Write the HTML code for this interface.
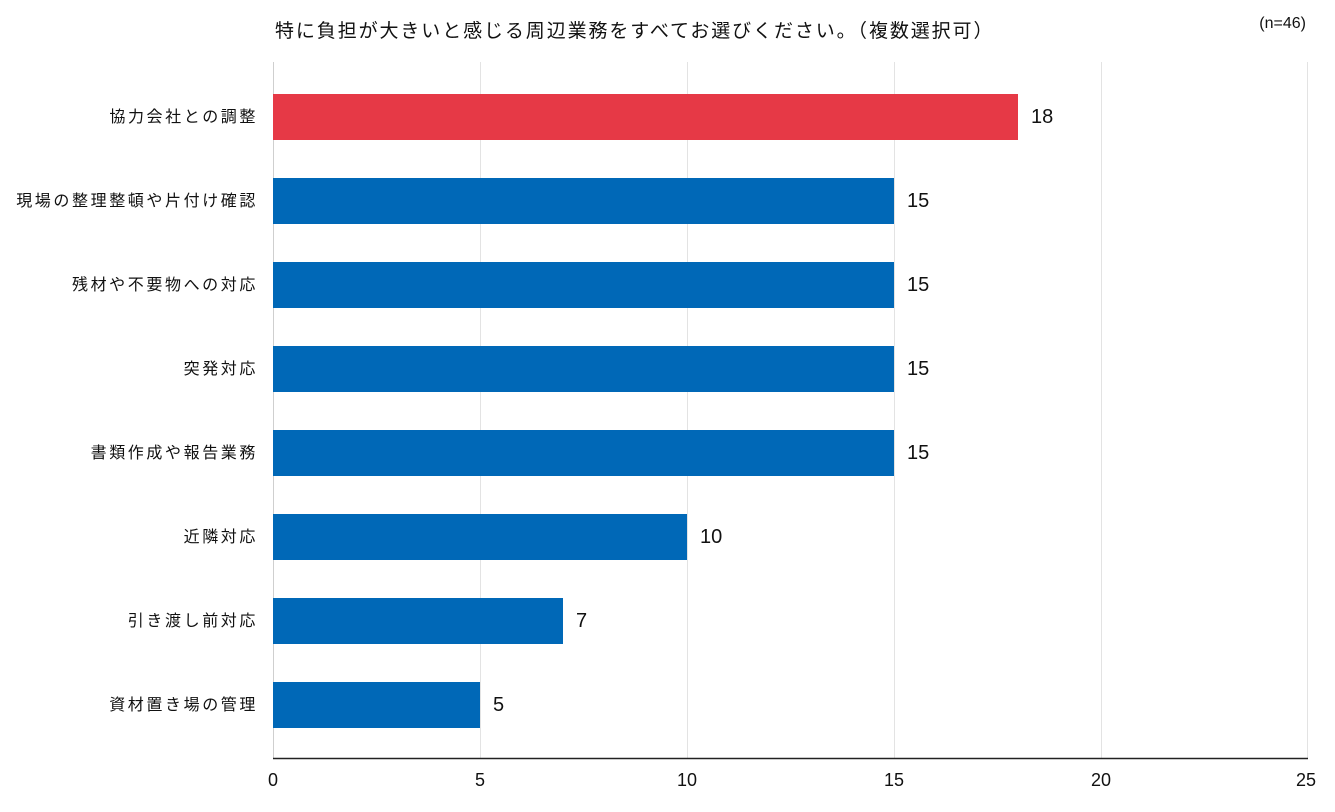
<!DOCTYPE html>
<html><head><meta charset="utf-8"><style>
body{margin:0;background:#fff;}
svg text{font-family:"Liberation Sans","Noto Sans CJK JP",sans-serif;fill:#111;}
</style></head><body>
<svg width="1335" height="807" xmlns="http://www.w3.org/2000/svg">
<text x="275" y="37" font-size="19" letter-spacing="1.9">特に負担が大きいと感じる周辺業務をすべてお選びください。（複数選択可）</text>
<text x="1306" y="28" font-size="16" text-anchor="end">(n=46)</text>
<g stroke="#e3e3e3" stroke-width="1">
<line x1="480.5" y1="62" x2="480.5" y2="758"/>
<line x1="687.5" y1="62" x2="687.5" y2="758"/>
<line x1="894.5" y1="62" x2="894.5" y2="758"/>
<line x1="1101.5" y1="62" x2="1101.5" y2="758"/>
<line x1="1307.5" y1="62" x2="1307.5" y2="758"/>
</g>
<line x1="273.5" y1="62" x2="273.5" y2="758" stroke="#cfcfcf"/>
<line x1="273" y1="758.5" x2="1308" y2="758.5" stroke="#222" stroke-width="1.5"/>
<g font-size="18" text-anchor="middle">
<text x="273" y="786">0</text><text x="480" y="786">5</text><text x="687" y="786">10</text><text x="894" y="786">15</text><text x="1101" y="786">20</text><text x="1306" y="786">25</text>
</g>
<rect x="273" y="94" width="745" height="46" fill="#E63946"/>
<rect x="273" y="178" width="621" height="46" fill="#0068B7"/>
<rect x="273" y="262" width="621" height="46" fill="#0068B7"/>
<rect x="273" y="346" width="621" height="46" fill="#0068B7"/>
<rect x="273" y="430" width="621" height="46" fill="#0068B7"/>
<rect x="273" y="514" width="414" height="46" fill="#0068B7"/>
<rect x="273" y="598" width="290" height="46" fill="#0068B7"/>
<rect x="273" y="682" width="207" height="46" fill="#0068B7"/>
<g font-size="20">
<text x="1031" y="123">18</text><text x="907" y="207">15</text><text x="907" y="291">15</text><text x="907" y="375">15</text><text x="907" y="459">15</text><text x="700" y="543">10</text><text x="576" y="627">7</text><text x="493" y="711">5</text>
</g>
<g font-size="16" text-anchor="end" letter-spacing="2.6">
<text x="258" y="122">協力会社との調整</text>
<text x="258" y="206">現場の整理整頓や片付け確認</text>
<text x="258" y="290">残材や不要物への対応</text>
<text x="258" y="374">突発対応</text>
<text x="258" y="458">書類作成や報告業務</text>
<text x="258" y="542">近隣対応</text>
<text x="258" y="626">引き渡し前対応</text>
<text x="258" y="710">資材置き場の管理</text>
</g>
</svg>
</body></html>
